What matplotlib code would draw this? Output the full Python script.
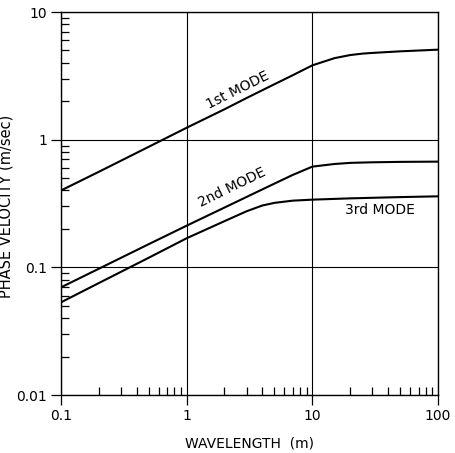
import matplotlib
matplotlib.use("Agg")
import matplotlib.pyplot as plt
from matplotlib.ticker import LogLocator, NullFormatter, FixedLocator

wavelength = [0.1, 0.2, 0.5, 1, 2, 3, 5, 7, 10, 15, 20, 25, 30, 50, 100]
mode1 = [0.40, 0.56, 0.88, 1.24, 1.73, 2.12, 2.72, 3.2, 3.82, 4.35, 4.6, 4.72, 4.78, 4.92, 5.07]
mode2 = [0.0697, 0.0975, 0.152, 0.212, 0.294, 0.356, 0.453, 0.53, 0.615, 0.645, 0.658, 0.662, 0.665, 0.67, 0.673]
mode3_x = [0.1, 0.2, 0.5, 1, 2, 3, 4, 5, 7, 10, 20, 50, 100]
mode3 = [0.0532, 0.0753, 0.119, 0.169, 0.23, 0.275, 0.305, 0.32, 0.333, 0.339, 0.347, 0.355, 0.36]

mode_labels = ["1st MODE", "2nd MODE", "3rd MODE"]
x_ticks = [0.1, 1, 10, 100]
x_ticklabels = ["0.1", "1", "10", "100"]
y_ticks = [0.01, 0.1, 1, 10]
y_ticklabels = ["0.01", "0.1", "1", "10"]

plt.rcParams['font.family'] = ['DejaVu Sans']
fig = plt.figure(figsize=(4.55, 4.53), dpi=100)
ax = fig.add_axes([0.134, 0.128, 0.8286, 0.8455])
ax.set_xscale('log')
ax.set_yscale('log')
ax.set_xlim(0.1, 100)
ax.set_ylim(0.01, 10)

lw = 1.5
ax.plot(wavelength, mode1, color='k', lw=lw, solid_capstyle='butt')
ax.plot(wavelength, mode2, color='k', lw=lw, solid_capstyle='butt')
ax.plot(mode3_x, mode3, color='k', lw=lw, solid_capstyle='butt')

ax.xaxis.set_major_locator(FixedLocator(x_ticks))
ax.yaxis.set_major_locator(FixedLocator(y_ticks))
ax.set_xticklabels(x_ticklabels)
ax.set_yticklabels(y_ticklabels)
ax.xaxis.set_minor_locator(LogLocator(base=10, subs=range(2, 10)))
ax.yaxis.set_minor_locator(LogLocator(base=10, subs=range(2, 10)))
ax.xaxis.set_minor_formatter(NullFormatter())
ax.yaxis.set_minor_formatter(NullFormatter())

ax.tick_params(which='major', direction='out', length=7, width=0.9, labelsize=10, color='k')
ax.tick_params(which='minor', direction='in', length=6, width=0.9, color='k')
ax.tick_params(axis='x', which='major', pad=3)
ax.tick_params(axis='y', which='major', pad=3)

ax.grid(which='major', color='k', lw=0.8)
for s in ax.spines.values():
    s.set_linewidth(1.0)

ax.set_xlabel("WAVELENGTH  (m)", fontsize=10, labelpad=10)
ax.set_ylabel("PHASE VELOCITY (m/sec)", fontsize=10.5)
ax.yaxis.set_label_coords(-0.125, 0.493)

ax.text(2.56, 2.42, mode_labels[0], rotation=26.5, ha='center', va='center', fontsize=10)
ax.text(2.28, 0.42, mode_labels[1], rotation=26, ha='center', va='center', fontsize=10)
ax.text(34.5, 0.283, mode_labels[2], ha='center', va='center', fontsize=10)

fig.savefig("out.png", dpi=100)
